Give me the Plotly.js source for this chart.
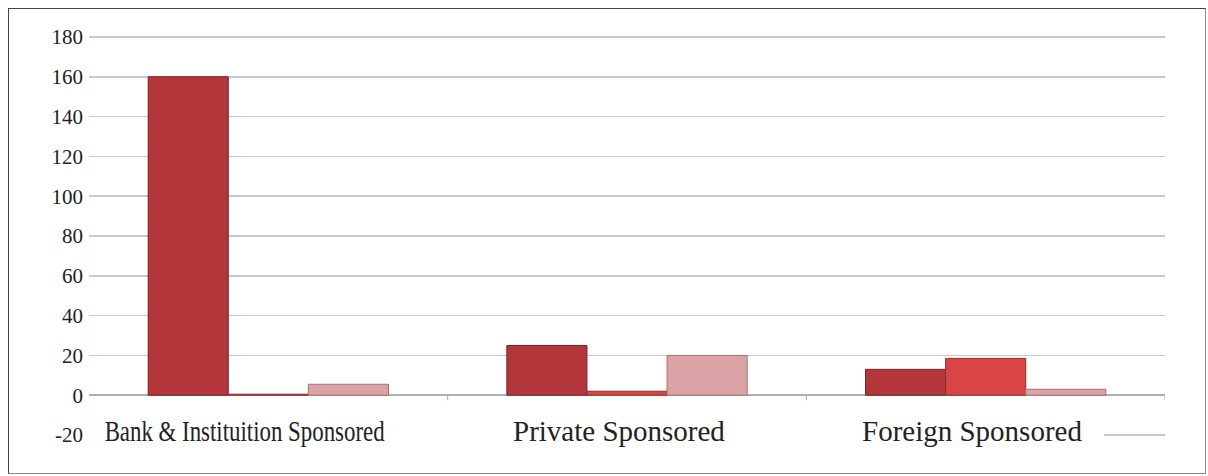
<!DOCTYPE html>
<html>
<head>
<meta charset="utf-8">
<script src="https://cdn.plot.ly/plotly-3.0.1.min.js"></script>
<style>
  html, body { margin: 0; padding: 0; background: #fff; }
  #wrap { position: relative; width: 1208px; height: 476px; }
  #chart { position: absolute; left: 0; top: 0; width: 1208px; height: 476px; }
  #frame { position: absolute; left: 8px; top: 8px; width: 1196px; height: 464px; border: 1px solid #444; border-right-color: #888; border-bottom-color: #888; pointer-events: none; }
</style>
</head>
<body>
<div id="wrap">
  <div id="chart"></div>
  <div id="frame"></div>
</div>
<script>
const categories = ["Bank & Instituition Sponsored", "Private Sponsored", "Foreign Sponsored"];
const series1 = [160, 25, 13];
const series2 = [0.5, 2, 18.5];
const series3 = [5.5, 20, 3];
const yTicks = [-20, 0, 20, 40, 60, 80, 100, 120, 140, 160, 180];

const fills = ["#b3373a", "#d94544", "#dca3a7"];
const edges = ["#7a2226", "#962c2c", "#a07074"];

const traces = [series1, series2, series3].map((vals, i) => ({
  type: "bar",
  x: categories,
  y: vals,
  marker: { color: fills[i], line: { color: edges[i], width: 1 } },
  hoverinfo: "y",
  showlegend: false
}));

const font = "Liberation Serif, Times New Roman, serif";
const labelShift = [-23, -8, -14];

const annotations = categories.map((c, i) => ({
  x: c, xref: "x", y: -20, yref: "y",
  text: c, showarrow: false,
  font: { family: font, size: 29, color: "#222" },
  bgcolor: "rgba(255,255,255,0)",
  xanchor: "center", yanchor: "middle",
  xshift: labelShift[i], yshift: 4
}));

const shapes = [
  { type: "rect", xref: "x", yref: "y", x0: -0.5, x1: 2.33, y0: -21, y1: -19,
    fillcolor: "#ffffff", line: { width: 0 }, layer: "between" }
];
[0.5, 1.5, 2.5].forEach(b => shapes.push({
  type: "line", xref: "x", yref: "y", x0: b, x1: b, y0: 0, y1: -2.5,
  line: { color: "#aaaaaa", width: 1 }, layer: "above"
}));

const layout = {
  width: 1208, height: 476,
  margin: { l: 89, r: 43, t: 33, b: 37 },
  paper_bgcolor: "#ffffff",
  plot_bgcolor: "#ffffff",
  barmode: "group",
  bargap: 0.33,
  bargroupgap: 0,
  xaxis: {
    type: "category",
    range: [-0.5, 2.5],
    showticklabels: false,
    showgrid: false,
    zeroline: false,
    showline: false,
    ticks: ""
  },
  yaxis: {
    range: [-22, 182],
    tickmode: "array",
    tickvals: yTicks,
    ticktext: yTicks.map(String),
    showgrid: true,
    gridcolor: "#c8c8c8",
    gridwidth: 1.5,
    zeroline: true,
    zerolinecolor: "#b0b0b0",
    zerolinewidth: 1.5,
    showline: false,
    ticks: "",
    ticklabelstandoff: 5,
    tickfont: { family: font, size: 21, color: "#222" }
  },
  annotations: annotations,
  shapes: shapes
};

Plotly.newPlot("chart", traces, layout, { displayModeBar: false, staticPlot: true }).then(gd => {
  // the first category label is horizontally compressed in the reference
  const texts = gd.querySelectorAll(".annotation-text");
  texts.forEach(t => {
    if (t.textContent === categories[0]) {
      t.setAttribute("textLength", "280");
      t.setAttribute("lengthAdjust", "spacingAndGlyphs");
    }
  });
});
</script>
</body>
</html>
